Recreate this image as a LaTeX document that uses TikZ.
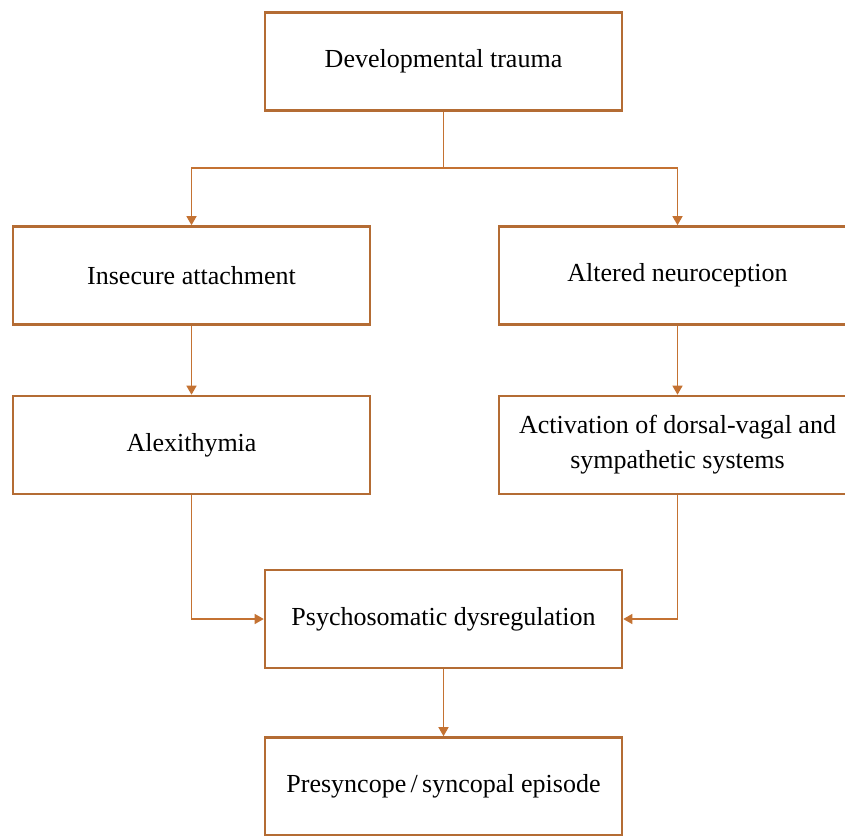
\documentclass[tikz,border=0pt]{standalone}
\usepackage{fontspec}
\setmainfont{Liberation Serif}
\usepackage{tikz}
\usetikzlibrary{arrows.meta, positioning, calc}
\definecolor{boxbrown}{RGB}{180, 108, 52}
\definecolor{linkorange}{RGB}{196, 114, 50}

\begin{document}
\begin{tikzpicture}[x=1pt, y=-1pt,
    stagebox/.style={draw=boxbrown, fill=white, line width=2.6pt,
        minimum width=357pt, minimum height=98pt, align=center,
        font=\fontsize{26}{35}\selectfont, inner sep=0pt},
    link/.style={draw=linkorange, line width=1.3pt,
        -{Triangle[length=9pt, width=10pt]}}]
  \useasboundingbox[fill=white] (0,0) rectangle (845,835);

  % boxes
  \node[stagebox] (trauma)   at (443.5, 61.5)  {Developmental trauma};
  \node[stagebox] (insecure) at (191.5, 275.5) {Insecure attachment};
  \node[stagebox] (neuro)    at (677.5, 275.5) {Altered neuroception};
  \node[stagebox] (alexi)    at (191.5, 445)   {Alexithymia};
  \node[stagebox] (activ)    at (677.5, 445)   {Activation of dorsal-vagal and\\sympathetic systems};
  \node[stagebox] (psycho)   at (443.5, 619)   {Psychosomatic dysregulation};
  \node[stagebox] (syncope)  at (443.5, 786.5) {Presyncope\,/\,syncopal episode};

  % connectors
  \coordinate (split) at (443.5, 168);
  \draw[draw=linkorange, line width=1.3pt] (trauma.south) -- (split);
  \draw[link] (split) -| (insecure.north);
  \draw[link] (split) -| (neuro.north);
  \draw[link] (insecure) -- (alexi);
  \draw[link] (neuro) -- (activ);
  \draw[link] (alexi.south) |- (psycho.west);
  \draw[link] (activ.south) |- (psycho.east);
  \draw[link] (psycho) -- (syncope);
\end{tikzpicture}
\end{document}
